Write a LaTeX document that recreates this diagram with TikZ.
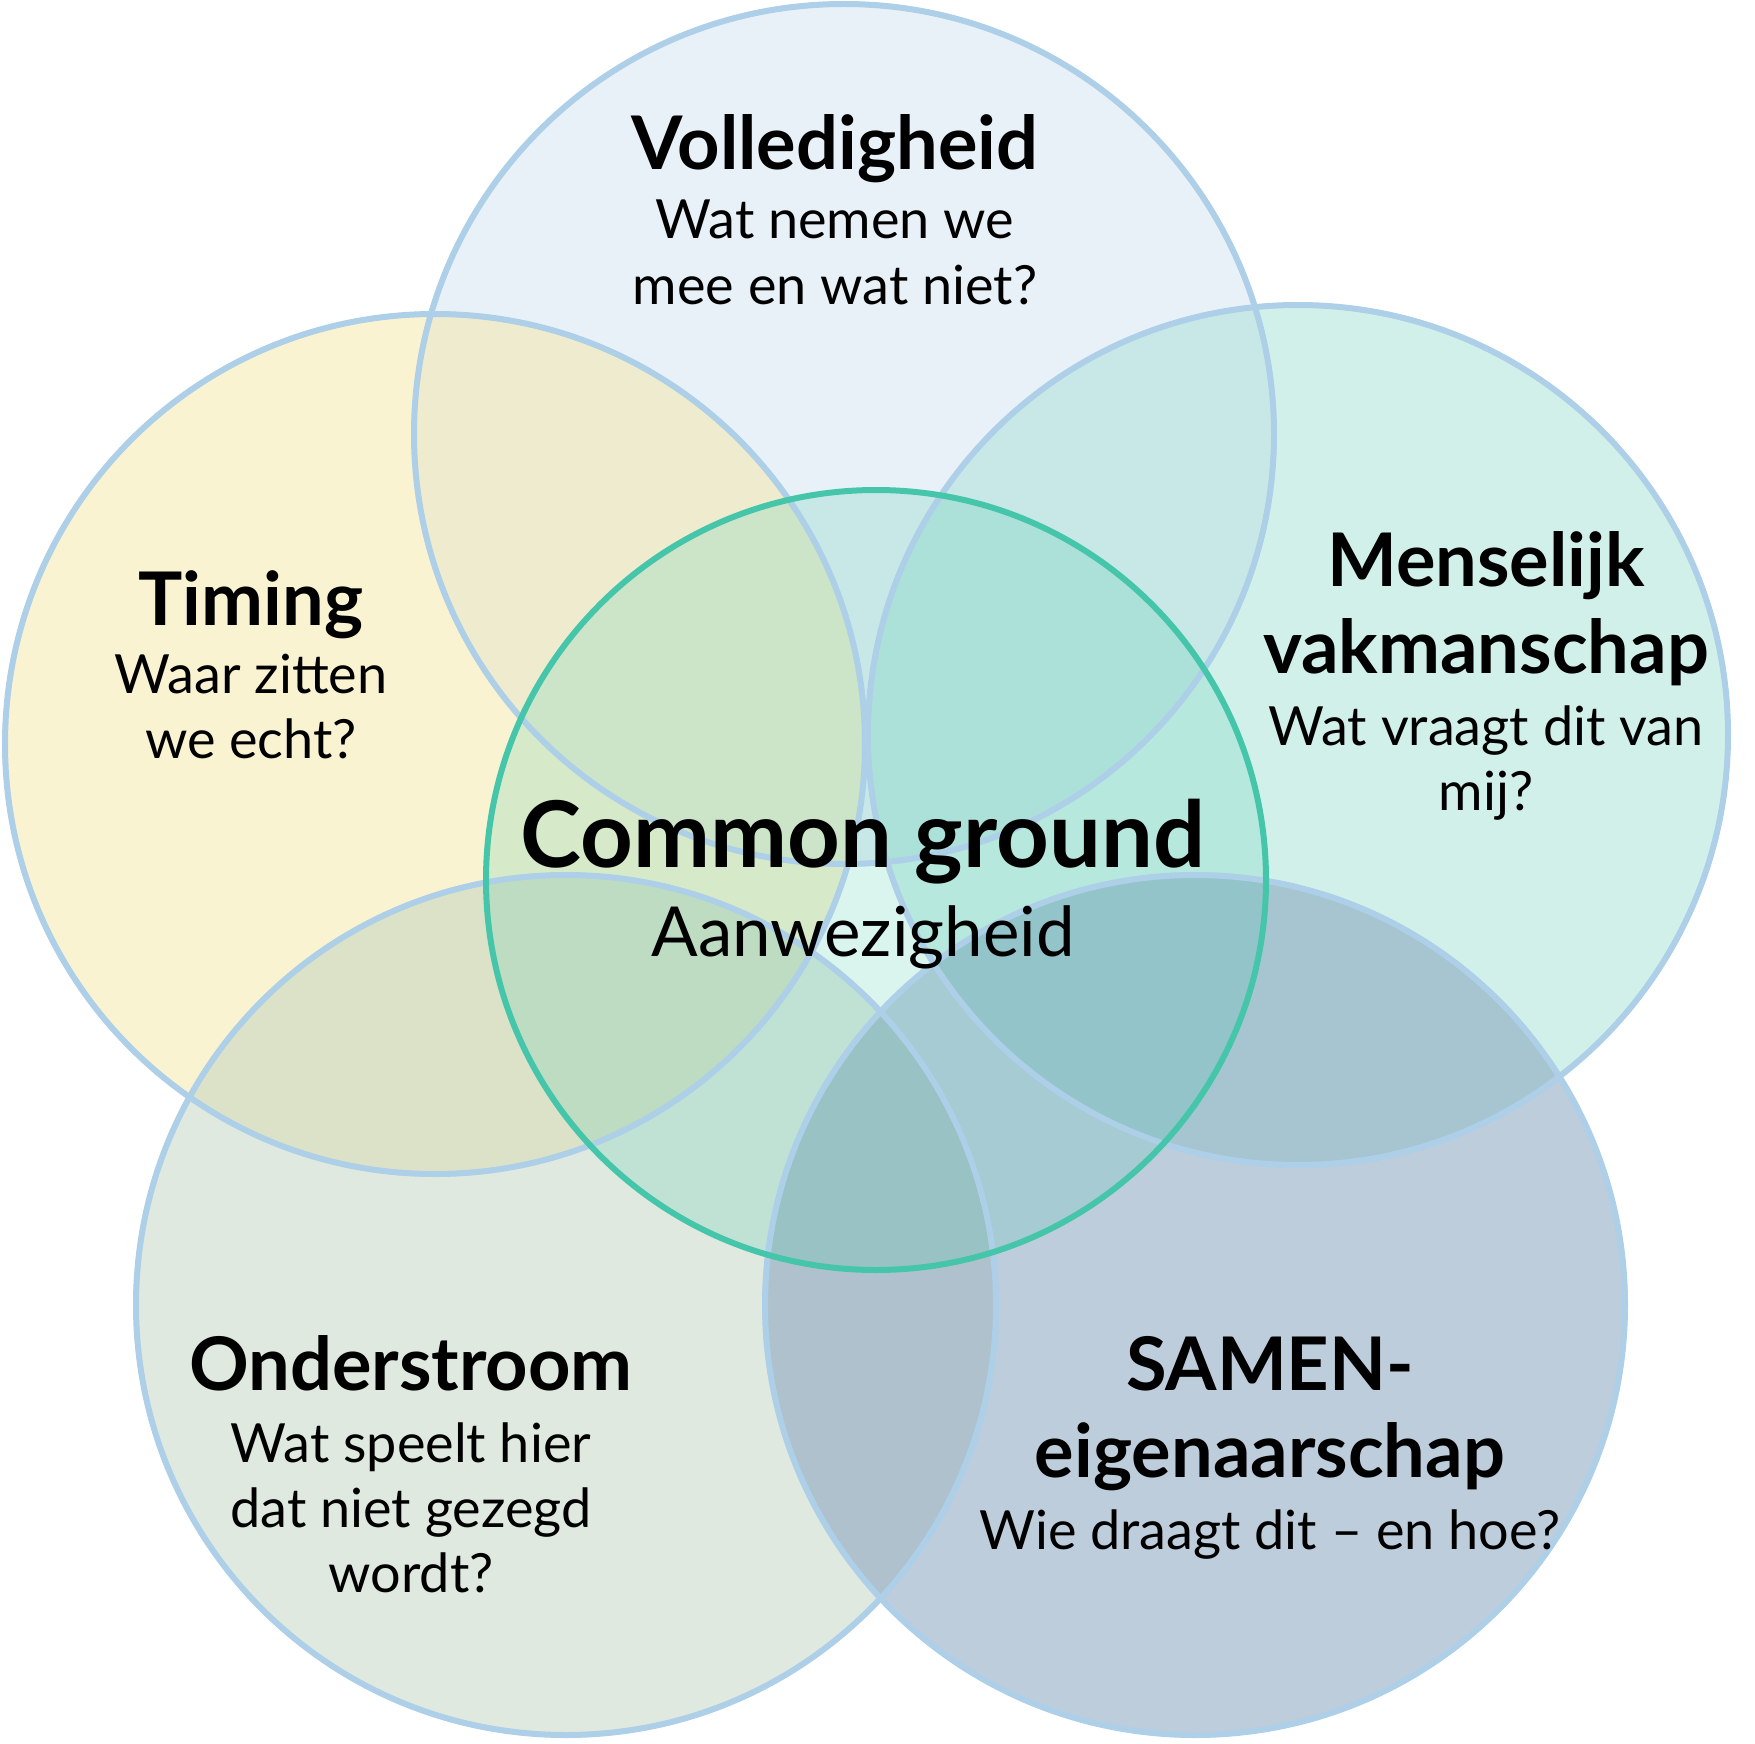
\documentclass[tikz,border=0pt]{standalone}
\usepackage{fontspec}
\setmainfont{Lato}
\usepackage{xcolor}
\definecolor{ringborder}{RGB}{174,207,232}
\definecolor{coreborder}{RGB}{69,198,170}
\definecolor{volfill}{RGB}{211,227,241}
\definecolor{timfill}{RGB}{245,231,165}
\definecolor{menfill}{RGB}{165,225,213}
\definecolor{ondfill}{RGB}{191,211,191}
\definecolor{samfill}{RGB}{125,155,185}
\usetikzlibrary{calc}

\begin{document}
\begin{tikzpicture}[x=0.5pt,y=-0.5pt,
      ring style/.style={draw=ringborder,line width=2.5pt,fill opacity=0.5},
      title style/.style={anchor=base,align=center,font=\fontsize{37}{43.5}\selectfont\bfseries},
      text style/.style={anchor=base,align=center,font=\fontsize{27}{32.5}\selectfont}
      ]
      \useasboundingbox (0,0) rectangle (1755,1744);

      \fill[ring style,fill=volfill] (844,434) circle (430);
      \fill[ring style,fill=timfill] (435,744) circle (430);
      \fill[ring style,fill=menfill] (1298,735) circle (430);
      \fill[ring style,fill=ondfill] (566,1305) circle (430);
      \fill[ring style,fill=samfill] (1195,1305) circle (430);
      \fill[coreborder,fill opacity=0.2] (876,880) circle (390);
      \foreach \c in {(844,434),(435,744),(1298,735),(566,1305),(1195,1305)}
        \draw[draw=ringborder,line width=3pt] \c circle (430);
      \draw[draw=coreborder,line width=3pt] (876,880) circle (390);

      \node[title style] (vol) at (835,170) {Volledigheid};
      \node[text style] (voltext) at (835,304) {Wat nemen we\\mee en wat niet?};
      \node[title style] (tim) at (251,625) {Timing};
      \node[text style] (timtext) at (251,758) {Waar zitten\\we echt?};
      \node[title style] (men) at (1486,673) {Menselijk\\vakmanschap};
      \node[text style] (mentext) at (1486,810) {Wat vraagt dit van\\mij?};
      \node[anchor=base,font=\fontsize{46}{50}\selectfont\bfseries] (core) at (863,867) {Common ground};
      \node[anchor=base,font=\fontsize{34.5}{38}\selectfont] (coretext) at (863,956) {Aanwezigheid};
      \node[title style] (ond) at (411,1390) {Onderstroom};
      \node[text style] (ondtext) at (411,1592) {Wat speelt hier\\dat niet gezegd\\wordt?};
      \node[title style] (sam) at (1270,1477) {SAMEN-\\eigenaarschap};
      \node[text style] (samtext) at (1270,1549) {Wie draagt dit -- en hoe?};
    \end{tikzpicture}
\end{document}
